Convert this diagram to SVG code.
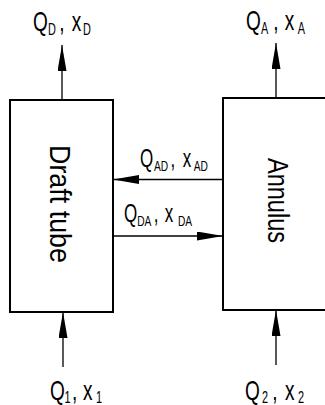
<svg xmlns="http://www.w3.org/2000/svg" width="325" height="405" viewBox="0 0 325 405">
  <style>
    .box { fill: none; stroke: #000; stroke-width: 2; }
    .flow { fill: none; stroke: #000; stroke-width: 1.3; marker-end: url(#head); }
    .lbl { font-family: "Liberation Sans", Arial, sans-serif; font-size: 28px; fill: #000; }
    .lbl.sm { font-size: 25px; }
    .sub { font-size: 16px; }
    .lbl.sm .sub { font-size: 15px; }
    .name { font-family: "Liberation Sans", Arial, sans-serif; font-size: 30px; fill: #000; text-anchor: middle; }
  </style>
  <defs>
    <marker id="head" viewBox="0 0 26 9" refX="26" refY="4.5" markerWidth="26" markerHeight="9" markerUnits="userSpaceOnUse" orient="auto">
      <path d="M0,0 L26,4.5 L0,9 Z" fill="#000"/>
    </marker>
  </defs>

  <!-- draft tube compartment -->
  <g id="draft-tube">
    <rect class="box" x="10" y="100" width="103" height="212"/>
    <text class="name" transform="translate(50,204) rotate(90)" textLength="118" lengthAdjust="spacingAndGlyphs">Draft tube</text>
  </g>

  <!-- annulus compartment (runs off the right edge) -->
  <g id="annulus">
    <path class="box" d="M330,98 H223 V310 H330"/>
    <text class="name" transform="translate(268,200.5) rotate(90)" textLength="85" lengthAdjust="spacingAndGlyphs">Annulus</text>
  </g>

  <!-- flow streams -->
  <g id="connectors">
    <line class="flow" x1="62" y1="100" x2="62" y2="45"/>
    <line class="flow" x1="276" y1="98" x2="276" y2="43"/>
    <line class="flow" x1="223" y1="179.5" x2="113" y2="179.5"/>
    <line class="flow" x1="113" y1="236" x2="223" y2="236"/>
    <line class="flow" x1="63" y1="367" x2="63" y2="312"/>
    <line class="flow" x1="276" y1="365" x2="276" y2="310"/>
  </g>

  <!-- stream labels -->
  <g id="labels">
    <text class="lbl" transform="translate(33,31) scale(0.68,1)"><tspan x="0" y="0">Q</tspan><tspan class="sub" x="22" y="4">D</tspan><tspan x="38.5" y="0">,</tspan><tspan x="57" y="0">x</tspan><tspan class="sub" x="73.5" y="4">D</tspan></text>
    <text class="lbl" transform="translate(246,30) scale(0.68,1)"><tspan x="0" y="0">Q</tspan><tspan class="sub" x="22" y="4">A</tspan><tspan x="40" y="0">,</tspan><tspan x="57" y="0">x</tspan><tspan class="sub" x="76" y="4">A</tspan></text>
    <text class="lbl sm" transform="translate(140,167) scale(0.68,1)"><tspan x="0" y="0">Q</tspan><tspan class="sub" x="20.6" y="4">AD</tspan><tspan x="45" y="0">,</tspan><tspan x="63" y="0">x</tspan><tspan class="sub" x="79" y="4">AD</tspan></text>
    <text class="lbl sm" transform="translate(124,222) scale(0.68,1)"><tspan x="0" y="0">Q</tspan><tspan class="sub" x="19.5" y="4">DA</tspan><tspan x="43.6" y="0">,</tspan><tspan x="60" y="0">x</tspan><tspan class="sub" x="79.4" y="4">DA</tspan></text>
    <text class="lbl" transform="translate(50,400) scale(0.68,1)"><tspan x="0" y="0">Q</tspan><tspan class="sub" x="21.5" y="3">1</tspan><tspan x="32.5" y="0">,</tspan><tspan x="48.5" y="0">x</tspan><tspan class="sub" x="67.5" y="3">1</tspan></text>
    <text class="lbl" transform="translate(245,400) scale(0.68,1)"><tspan x="0" y="0">Q</tspan><tspan class="sub" x="25" y="3">2</tspan><tspan x="40" y="0">,</tspan><tspan x="58.8" y="0">x</tspan><tspan class="sub" x="78" y="3">2</tspan></text>
  </g>
</svg>
